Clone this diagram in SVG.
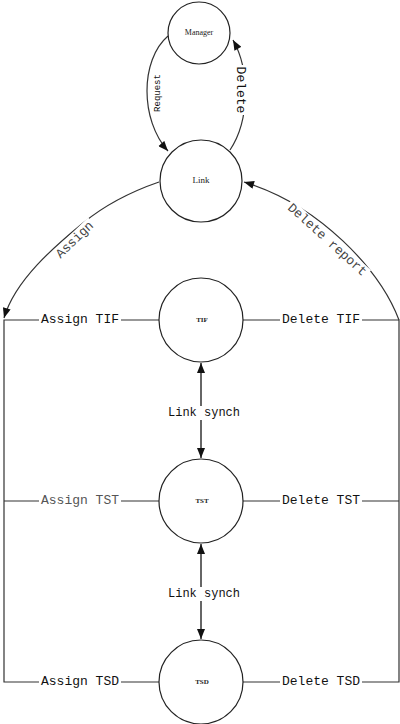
<svg xmlns="http://www.w3.org/2000/svg" width="400" height="724" viewBox="0 0 400 724">
<style>
.node{fill:#fff;stroke:#222;stroke-width:1.2}
.nl{font-family:"Liberation Serif",serif;fill:#222;text-anchor:middle;dominant-baseline:middle}
.ln{fill:none;stroke:#333;stroke-width:1.2}
.gl{fill:none;stroke:#666;stroke-width:2}
.bg{fill:#fff}
.lb{font-family:"Liberation Mono",monospace;font-size:13px;fill:#111;text-anchor:middle;dominant-baseline:middle}
</style>
<defs>
<marker id="ah" viewBox="0 0 10 8" refX="10" refY="4" markerWidth="11" markerHeight="8" markerUnits="userSpaceOnUse" orient="auto-start-reverse">
<path d="M0,0 L10,4 L0,8 Z" fill="#111"/>
</marker>
</defs>
<rect width="400" height="724" fill="#fff"/>
<g id="connectors">
<path class="ln" d="M168,36 C140,60 140,120 168,151" marker-end="url(#ah)"/>
<path class="ln" d="M230,150 C250,120 250,70 233,40" marker-end="url(#ah)"/>
<path class="ln" d="M159,182 C130,192 105,205 83,223 C55,246 15,280 4,318" marker-end="url(#ah)"/>
<path class="ln" d="M399,320 C380,270 320,205 244,182" marker-end="url(#ah)"/>
<path class="ln" d="M159,320 H4 V682 H159"/>
<path class="ln" d="M243,320 H399 V682 H243"/>
<path class="ln" d="M4,501 H159"/>
<path class="ln" d="M243,501 H399"/>
<path class="gl" d="M201,363 V458" marker-start="url(#ah)" marker-end="url(#ah)"/>
<path class="gl" d="M201,544 V639" marker-start="url(#ah)" marker-end="url(#ah)"/>
<g transform="translate(158,93) rotate(-90)"><rect class="bg" x="-20" y="-6" width="40" height="12"/><text class="lb" style="font-size:9px">Request</text></g>
<g transform="translate(240,90) rotate(90)"><rect class="bg" x="-25" y="-7" width="50" height="14"/><text class="lb">Delete</text></g>
<g transform="translate(75,240) rotate(-44)"><rect class="bg" x="-25" y="-7" width="50" height="14"/><text class="lb" style="fill:#444">Assign</text></g>
<g transform="translate(327,240) rotate(42)"><rect class="bg" x="-53" y="-7" width="106" height="14"/><text class="lb" style="fill:#444">Delete report</text></g>
<g transform="translate(80,320)"><rect class="bg" x="-41" y="-7" width="82" height="14"/><text class="lb">Assign TIF</text></g>
<g transform="translate(321,320)"><rect class="bg" x="-41" y="-7" width="82" height="14"/><text class="lb">Delete TIF</text></g>
<g transform="translate(80,501)"><rect class="bg" x="-41" y="-7" width="82" height="14"/><text class="lb" style="fill:#555">Assign TST</text></g>
<g transform="translate(321,501)"><rect class="bg" x="-41" y="-7" width="82" height="14"/><text class="lb">Delete TST</text></g>
<g transform="translate(80,682)"><rect class="bg" x="-41" y="-7" width="82" height="14"/><text class="lb">Assign TSD</text></g>
<g transform="translate(321,682)"><rect class="bg" x="-41" y="-7" width="82" height="14"/><text class="lb">Delete TSD</text></g>
<g transform="translate(204,413)"><rect class="bg" x="-37" y="-7" width="74" height="14"/><text class="lb" style="font-size:12px">Link synch</text></g>
<g transform="translate(204,594)"><rect class="bg" x="-37" y="-7" width="74" height="14"/><text class="lb" style="font-size:12px">Link synch</text></g>
</g>
<g id="manager"><circle class="node" cx="199" cy="33" r="31"/><text class="nl" x="199" y="33" font-size="8">Manager</text></g>
<g id="link"><circle class="node" cx="201" cy="181" r="41"/><text class="nl" x="201" y="181" font-size="9">Link</text></g>
<g id="tif"><circle class="node" cx="201" cy="320" r="42"/><text class="nl" x="202" y="320" font-size="7" font-weight="bold">TIF</text></g>
<g id="tst"><circle class="node" cx="201" cy="501" r="42"/><text class="nl" x="202" y="501" font-size="7" font-weight="bold">TST</text></g>
<g id="tsd"><circle class="node" cx="201" cy="682" r="42"/><text class="nl" x="202" y="682" font-size="7" font-weight="bold">TSD</text></g>
</svg>
